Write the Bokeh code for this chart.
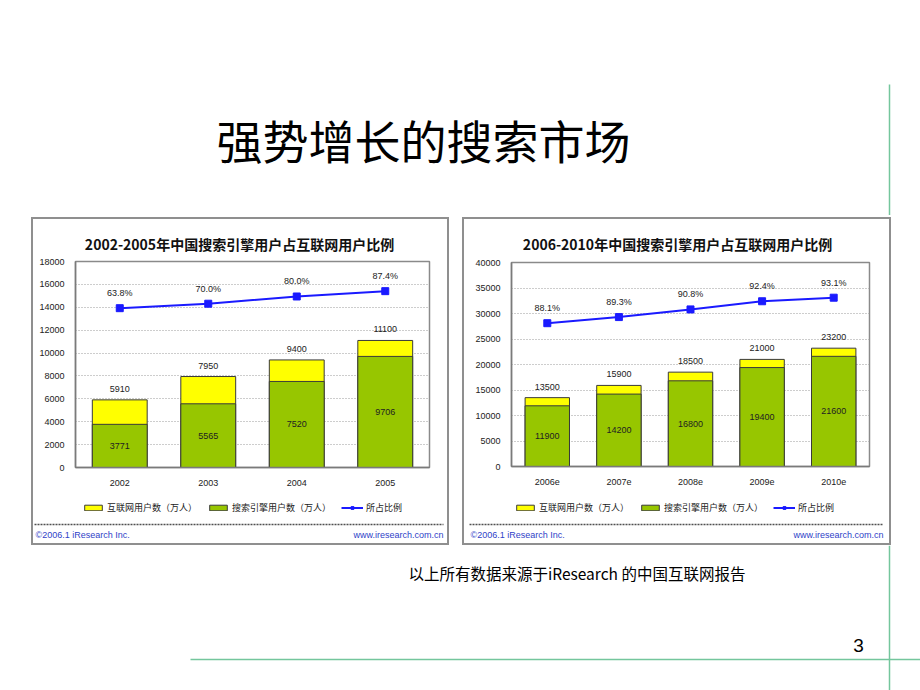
from bokeh.plotting import figure
from bokeh.models import Range1d, FixedTicker, Legend, LegendItem, Spacer, ColumnDataSource
from bokeh.layouts import column, row
from bokeh.core.properties import value
from bokeh.embed import file_html
from bokeh.resources import INLINE

# ---------------- data ----------------
years_a = ["2002", "2003", "2004", "2005"]
net_a = [5910, 7950, 9400, 11100]
search_a = [3771, 5565, 7520, 9706]
pct_a = [63.8, 70.0, 80.0, 87.4]

years_b = ["2006e", "2007e", "2008e", "2009e", "2010e"]
net_b = [13500, 15900, 18500, 21000, 23200]
search_b = [11900, 14200, 16800, 19400, 21600]
pct_b = [88.1, 89.3, 90.8, 92.4, 93.1]

ticks_a = [0, 2000, 4000, 6000, 8000, 10000, 12000, 14000, 16000, 18000]
ticks_b = [0, 5000, 10000, 15000, 20000, 25000, 30000, 35000, 40000]

title_a = "2002-2005年中国搜索引擎用户占互联网用户比例"
title_b = "2006-2010年中国搜索引擎用户占互联网用户比例"
legend_labels = ["互联网用户数（万人）", "搜索引擎用户数（万人）", "所占比例"]
slide_title = "强势增长的搜索市场"
caption = "以上所有数据来源于iResearch 的中国互联网报告"
page_no = "3"
foot_left = "©2006.1 iResearch Inc."
foot_right = "www.iresearch.com.cn"

CJK = "Noto Sans CJK SC"
LAT = "Liberation Sans"
YELLOW = "#ffff00"
GREEN = "#97c600"
BLUE = "#1a1aff"
DECO = "#74c69d"
FOOT_BLUE = "#2f3fc8"
EDGE = "#3a3a3a"
FRAME_GRAY = "#8f8f8f"


def bare(w, h):
    p = figure(width=w, height=h, x_range=Range1d(0, w), y_range=Range1d(h, 0),
               output_backend="svg", toolbar_location=None, min_border=0,
               frame_align=False)
    p.axis.visible = False
    p.grid.grid_line_color = None
    p.outline_line_color = None
    return p


def edge(w, h):
    return Spacer(width=w, height=h, styles={"background-color": FRAME_GRAY})


def make_chart(title, cats, net, search, pct, ymax, ticks, pct_range,
               width, mbl, mbr, mbt, mbb, title_x, foot_l, foot_r, legend_x):
    iw = width - 4
    # title strip
    t = bare(iw, 36)
    t.text(x=[title_x], y=[24], text=[title], text_align="center", text_baseline="middle",
           text_font=value(CJK), text_font_size="14px", text_font_style="bold",
           text_color="#111111")

    src = ColumnDataSource(dict(
        cat=cats, net=net, search=search, pct=pct,
        half=[s / 2 for s in search],
        net_lab=[str(v) for v in net],
        search_lab=[str(v) for v in search],
        pct_lab=["%.1f%%" % v for v in pct],
    ))
    p = figure(width=iw, height=236, x_range=cats, y_range=Range1d(0, ymax),
               output_backend="svg", toolbar_location=None,
               min_border_left=mbl, min_border_right=mbr,
               min_border_top=mbt, min_border_bottom=mbb, frame_align=False)
    p.extra_y_ranges = {"pct": Range1d(*pct_range)}

    p.vbar(x="cat", top="net", bottom=0, width=0.62, fill_color=YELLOW,
           line_color=EDGE, line_width=1, source=src)
    p.vbar(x="cat", top="search", bottom=0, width=0.62, fill_color=GREEN,
           line_color=EDGE, line_width=1, source=src)
    p.line(x="cat", y="pct", y_range_name="pct", line_color=BLUE,
           line_width=2, source=src)
    p.scatter(x="cat", y="pct", y_range_name="pct", marker="square", size=7,
              fill_color=BLUE, line_color=BLUE, source=src)

    common = dict(text_align="center", text_baseline="middle", text_font=value(LAT),
                  text_font_size="9px", text_color="#222222", source=src)
    p.text(x="cat", y="net", text="net_lab", y_offset=-11, **common)
    p.text(x="cat", y="half", text="search_lab", **common)
    p.text(x="cat", y="pct", text="pct_lab", y_range_name="pct", y_offset=-15, **common)

    p.yaxis.ticker = FixedTicker(ticks=ticks)
    p.ygrid.ticker = FixedTicker(ticks=ticks)
    p.ygrid.grid_line_color = "#9a9a9a"
    p.ygrid.grid_line_dash = "1 2"
    p.xgrid.grid_line_color = None
    for ax in (p.xaxis, p.yaxis):
        ax.major_tick_line_color = None
        ax.minor_tick_line_color = None
        ax.axis_line_color = "#7a7a7a"
        ax.axis_line_width = 1.5
        ax.major_label_text_font = LAT
        ax.major_label_text_font_size = "9px"
        ax.major_label_text_color = "#222222"
    p.yaxis.major_label_standoff = 5
    p.xaxis.major_label_standoff = 6
    p.outline_line_color = "#8a8a8a"
    p.outline_line_width = 1.5

    # legend strip
    lg = figure(width=iw, height=30, x_range=Range1d(0, 1), y_range=Range1d(0, 1),
                output_backend="svg", toolbar_location=None, min_border=0,
                frame_align=False)
    lg.axis.visible = False
    lg.grid.grid_line_color = None
    lg.outline_line_color = None
    off = ColumnDataSource(dict(x=[10, 11], y=[10, 11]))
    g1 = lg.vbar(x="x", top="y", width=0.5, fill_color=YELLOW, line_color=EDGE, source=off)
    g2 = lg.vbar(x="x", top="y", width=0.5, fill_color=GREEN, line_color=EDGE, source=off)
    g3 = lg.line(x="x", y="y", line_color=BLUE, line_width=2, source=off)
    g4 = lg.scatter(x="x", y="y", marker="square", size=6, fill_color=BLUE,
                    line_color=BLUE, source=off)
    legend = Legend(items=[
        LegendItem(label=legend_labels[0], renderers=[g1]),
        LegendItem(label=legend_labels[1], renderers=[g2]),
        LegendItem(label=legend_labels[2], renderers=[g3, g4]),
    ], orientation="horizontal", location=(legend_x, 7), border_line_color=None,
        background_fill_alpha=0, label_text_font=CJK, label_text_font_size="9px",
        label_text_color="#222222", glyph_width=22, glyph_height=7, label_standoff=3,
        spacing=10, padding=2, margin=0, label_height=10)
    lg.add_layout(legend)

    # footer strip
    f = bare(iw, 22)
    f.segment(x0=[foot_l], y0=[3], x1=[foot_r], y1=[3], line_color="#505050",
              line_width=1.5, line_dash="2 1")
    f.text(x=[foot_l + 1], y=[13], text=[foot_left], text_align="left", text_baseline="middle",
           text_font=value(LAT), text_font_size="9px", text_color=FOOT_BLUE)
    f.text(x=[foot_r], y=[13], text=[foot_right], text_align="right", text_baseline="middle",
           text_font=value(LAT), text_font_size="9px", text_color=FOOT_BLUE)

    inner = column(edge(iw, 2), t, p, lg, f, edge(iw, 2))
    return row(edge(2, 328), inner, edge(2, 328))


box_a = make_chart(title_a, years_a, net_a, search_a, pct_a, 18000, ticks_a, (-157, 128.5),
                   418, 42, 18, 6, 24, 206, 1, 410, 49)
box_b = make_chart(title_b, years_b, net_b, search_b, pct_b, 40000, ticks_b, (60, 100),
                   429, 47, 20, 7, 25, 213, 5, 419, 50)

# header
header = bare(920, 215)
header.text(x=[216], y=[138], text=[slide_title], text_align="left", text_baseline="middle",
            text_font=value(CJK), text_font_size="46px", text_color="#000000")
header.segment(x0=[889], y0=[84], x1=[889], y1=[215], line_color=DECO, line_width=1.5)

# footer
foot = bare(920, 145)
foot.text(x=[408], y=[27], text=[caption], text_align="left", text_baseline="middle",
          text_font=value(CJK), text_font_size="15.5px", text_color="#000000")
foot.text(x=[858], y=[100], text=[page_no], text_align="center", text_baseline="middle",
          text_font=value(LAT), text_font_size="19px", text_color="#000000")
foot.segment(x0=[889], y0=[0], x1=[889], y1=[145], line_color=DECO, line_width=1.5)
foot.segment(x0=[190], y0=[114], x1=[920], y1=[114], line_color=DECO, line_width=1.5)

middle = row(
    Spacer(width=31, height=330),
    column(Spacer(width=418, height=2), box_a),
    Spacer(width=13, height=330),
    column(Spacer(width=429, height=2), box_b),
    Spacer(width=29, height=330),
)

layout = column(header, middle, foot)
open("out.html", "w").write(file_html(layout, INLINE))
